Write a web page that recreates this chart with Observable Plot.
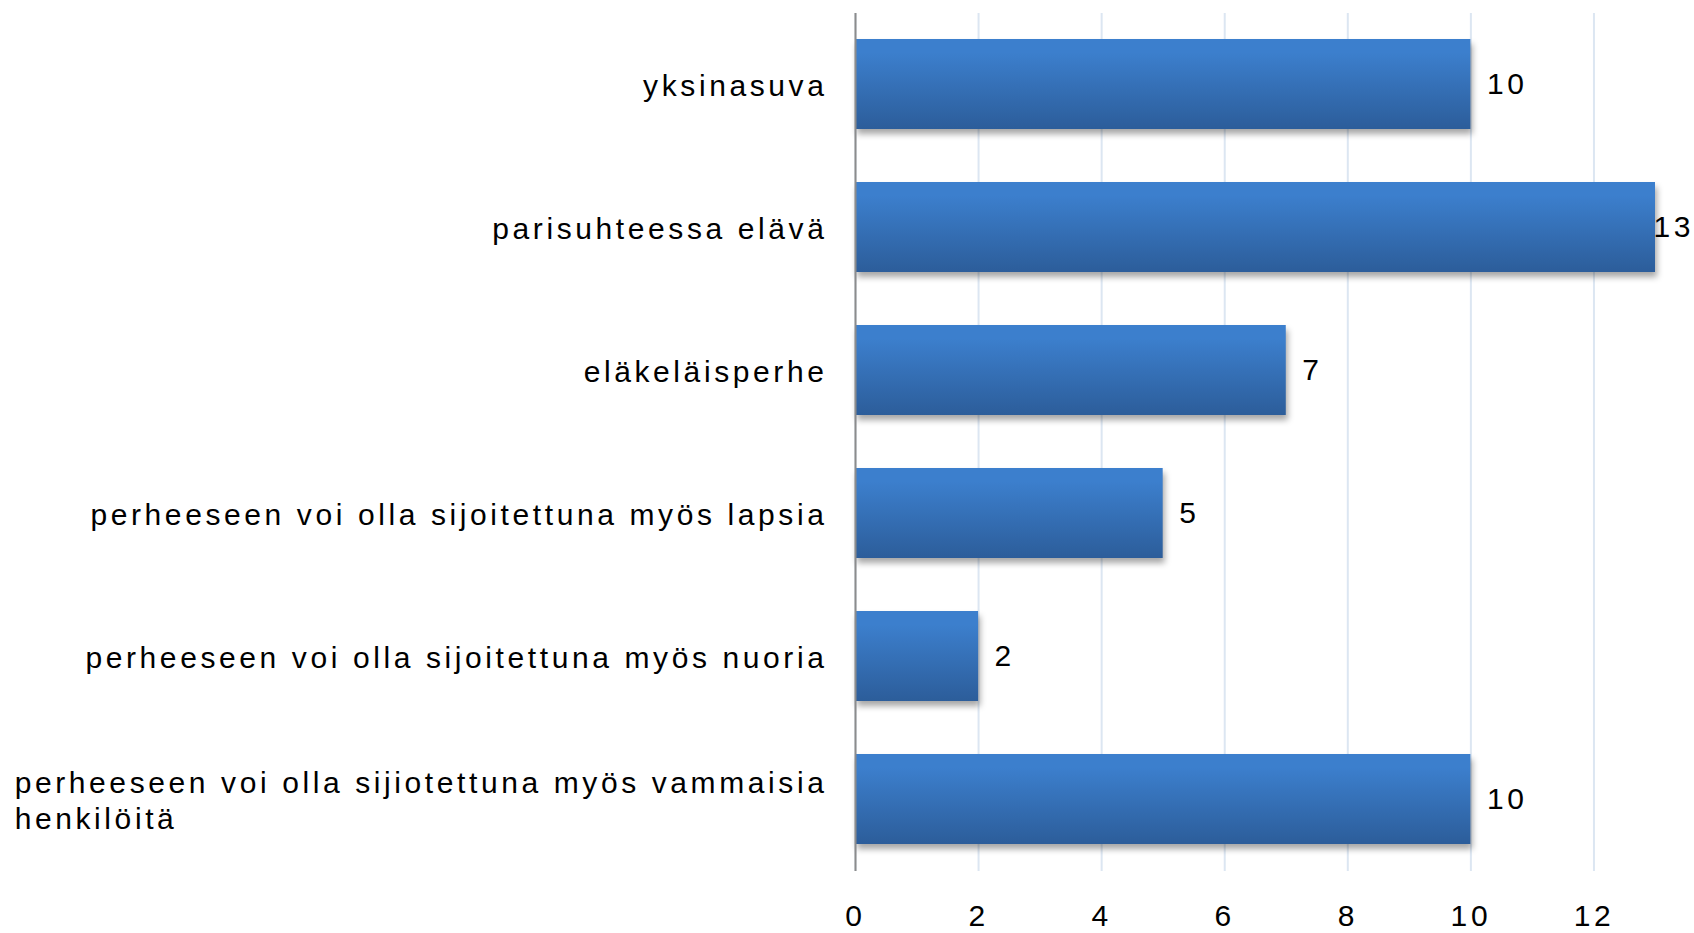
<!DOCTYPE html>
<html><head><meta charset="utf-8">
<script src="https://cdn.jsdelivr.net/npm/d3@7"></script>
<script src="https://cdn.jsdelivr.net/npm/@observablehq/plot@0.6"></script>
<style>
html,body{margin:0;padding:0;background:#fff;}
#chart svg text{letter-spacing:3.6px;}
</style></head><body><div id="chart"></div>
<script>
const categories = [
  "yksinasuva",
  "parisuhteessa elävä",
  "eläkeläisperhe",
  "perheeseen voi olla sijoitettuna myös lapsia",
  "perheeseen voi olla sijoitettuna myös nuoria",
  "perheeseen voi olla sijiotettuna myös vammaisia\nhenkilöitä"
];
const values = [10, 13, 7, 5, 2, 10];
const xTicks = [0, 2, 4, 6, 8, 10, 12];
const barTop = "#3c7fcd";
const barBottom = "#2c5d9a";

const data = categories.map((c, i) => ({category: c, value: values[i]}));

function gradientDefs() {
  const ns = "http://www.w3.org/2000/svg";
  const defs = document.createElementNS(ns, "defs");
  const g = document.createElementNS(ns, "linearGradient");
  g.setAttribute("id", "barGrad");
  g.setAttribute("x1", "0"); g.setAttribute("y1", "0");
  g.setAttribute("x2", "0"); g.setAttribute("y2", "1");
  [[0, barTop], [0.15, barTop], [1, barBottom]].forEach(([o, c]) => {
    const s = document.createElementNS(ns, "stop");
    s.setAttribute("offset", o);
    s.setAttribute("stop-color", c);
    g.appendChild(s);
  });
  defs.appendChild(g);
  return defs;
}

const chart = Plot.plot({
  width: 1694,
  height: 933,
  marginLeft: 855,
  marginRight: 39,
  marginTop: 13,
  marginBottom: 62,
  style: {fontFamily: '"Liberation Sans", Arial, sans-serif', fontSize: "30px", color: "#000", background: "#fff"},
  x: {domain: [0, 13]},
  y: {domain: categories, paddingInner: 0.37, paddingOuter: 0.18},
  marks: [
    gradientDefs,
    Plot.gridX({ticks: xTicks, stroke: "#dce6f2", strokeOpacity: 1, strokeWidth: 2}),
    Plot.barX(data, {x: "value", y: "category", fill: "url(#barGrad)"}),
    Plot.ruleX([0], {stroke: "#8c8c8c", strokeWidth: 2}),
    Plot.text(data, {x: "value", y: "category", text: d => String(d.value), textAnchor: "start", dx: 16, fontSize: 30, fill: "#000"}),
    Plot.axisX({ticks: xTicks, tickSize: 0, tickPadding: 33, fontSize: 30, label: null}),
    Plot.axisY({tickSize: 0, tickPadding: 28, fontSize: 30, lineHeight: 1.2, label: null})
  ]
});

document.getElementById("chart").append(chart);

// left-align wrapped category label as a block
chart.querySelectorAll('g[aria-label="y-axis tick label"] text').forEach(t => {
  const tspans = t.querySelectorAll("tspan");
  if (tspans.length > 1) {
    const w = t.getBBox().width;
    t.setAttribute("text-anchor", "start");
    tspans.forEach(s => s.setAttribute("x", -w));
  }
});

// bar shadow
const barG = chart.querySelector('g[aria-label="bar"]');
if (barG) barG.style.filter = "drop-shadow(2px 5px 3px rgba(0,0,0,0.35))";

// keep value labels inside the chart width
const svgRect = chart.getBoundingClientRect();
chart.querySelectorAll('g[aria-label="text"] text').forEach(t => {
  const r = t.getBoundingClientRect();
  const over = r.right - svgRect.right;
  if (over > 0) {
    const cur = parseFloat(t.getAttribute("dx") || 0);
    t.setAttribute("dx", cur - over);
  }
});
</script>
</body></html>
